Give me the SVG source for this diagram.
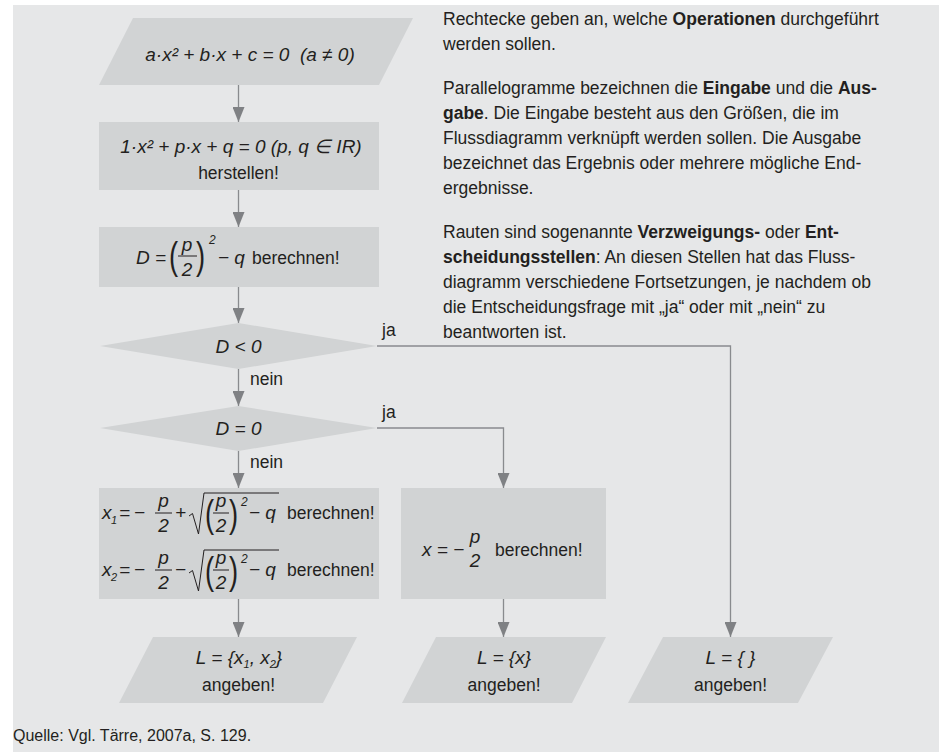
<svg xmlns="http://www.w3.org/2000/svg" width="939" height="753" viewBox="0 0 939 753">
<defs>
<style>
.bg{fill:#e6e7e8}
.n{fill:#d1d3d4}
.t{font-family:"Liberation Sans",Arial,sans-serif;font-size:17.5px;fill:#231f20}
.q{font-family:"Liberation Sans",Arial,sans-serif;font-size:16px;fill:#231f20}
.m{font-family:"Liberation Sans",Arial,sans-serif;font-size:19px;font-style:italic;fill:#231f20}
.b{font-weight:bold}
.mid{text-anchor:middle}
.c{fill:none;stroke:#898b8e;stroke-width:1.3}
.rule{stroke:#231f20;stroke-width:1;fill:none}
.sub{font-size:11px}
.sup{font-size:12px}
.par{font-family:"Liberation Sans",Arial,sans-serif;font-size:38px;fill:#231f20}
</style>
<marker id="ah" viewBox="0 0 15 12" refX="15" refY="6" markerWidth="15" markerHeight="12" markerUnits="userSpaceOnUse" orient="auto"><path d="M0,0 L15,6 L0,12 z" fill="#7f8184"/></marker>
</defs>
<rect class="bg" x="13" y="5" width="926" height="747"/>

<g id="connectors">
<path class="c" d="M238.5,85 V122" marker-end="url(#ah)"/>
<path class="c" d="M238.5,190 V227" marker-end="url(#ah)"/>
<path class="c" d="M238.5,287 V323" marker-end="url(#ah)"/>
<path class="c" d="M238.5,369 V406" marker-end="url(#ah)"/>
<path class="c" d="M238.5,451 V488" marker-end="url(#ah)"/>
<path class="c" d="M238.5,599 V637" marker-end="url(#ah)"/>
<path class="c" d="M377,346 H730.5 V637" marker-end="url(#ah)"/>
<path class="c" d="M377,428 H503.5 V488" marker-end="url(#ah)"/>
<path class="c" d="M503.5,599 V637" marker-end="url(#ah)"/>
<text class="t" x="382" y="336">ja</text>
<text class="t" x="382" y="418">ja</text>
<text class="t" x="250" y="385">nein</text>
<text class="t" x="250" y="468">nein</text>
</g>

<g id="input">
<polygon class="n" points="133,18 413,18 379,85 99,85"/>
<text class="m mid" x="250" y="61">a·x² + b·x + c = 0 &#160;(a ≠ 0)</text>
</g>

<g id="normalize">
<rect class="n" x="99" y="122" width="280" height="68"/>
<text class="m mid" x="241" y="153">1·x² + p·x + q = 0 (p, q ∈ IR)</text>
<text class="t mid" x="238.5" y="179">herstellen!</text>
</g>

<g id="discriminant">
<rect class="n" x="99" y="227" width="280" height="60"/>
<text class="m" x="136" y="264">D =</text>
<text class="par" transform="translate(169,269) scale(0.72,1)">(</text>
<text class="m mid" x="187" y="251">p</text>
<line class="rule" x1="178" y1="256" x2="197" y2="256"/>
<text class="m mid" x="187" y="276">2</text>
<text class="par" transform="translate(196,269) scale(0.72,1)">)</text>
<text class="m sup" x="209" y="244">2</text>
<text class="m" x="218" y="264">− q</text>
<text class="t" x="252" y="264">berechnen!</text>
</g>

<g id="decision-neg">
<polygon class="n" points="238.5,323 377,346 238.5,369 100,346"/>
<text class="m mid" x="238.5" y="353">D &lt; 0</text>
</g>

<g id="decision-zero">
<polygon class="n" points="238.5,406 377,428 238.5,451 100,428"/>
<text class="m mid" x="238.5" y="435">D = 0</text>
</g>

<g id="two-solutions">
<rect class="n" x="99" y="488" width="280" height="111"/>
<g id="line-x1">
<text class="m" x="102" y="519">x</text>
<text class="m sub" x="111" y="524">1</text>
<text class="m" x="119" y="519">=</text>
<text class="m" x="134" y="519">−</text>
<text class="m mid" x="163.5" y="507">p</text>
<line class="rule" x1="155" y1="513" x2="172" y2="513"/>
<text class="m mid" x="163.5" y="532">2</text>
<text class="m" x="175" y="519">+</text>
<polyline class="rule" points="189,516 192.5,513.5 198.5,534 204,493 279,493"/>
<text class="par" transform="translate(205,527) scale(0.72,1)">(</text>
<text class="m mid" x="221" y="507">p</text>
<line class="rule" x1="213" y1="513" x2="229" y2="513"/>
<text class="m mid" x="221" y="532">2</text>
<text class="par" transform="translate(229,527) scale(0.72,1)">)</text>
<text class="m sup" x="241" y="506">2</text>
<text class="m" x="249" y="519">− q</text>
<text class="t" x="287" y="519">berechnen!</text>
</g>
<g id="line-x2" transform="translate(0,57)">
<text class="m" x="102" y="519">x</text>
<text class="m sub" x="111" y="524">2</text>
<text class="m" x="119" y="519">=</text>
<text class="m" x="134" y="519">−</text>
<text class="m mid" x="163.5" y="507">p</text>
<line class="rule" x1="155" y1="513" x2="172" y2="513"/>
<text class="m mid" x="163.5" y="532">2</text>
<text class="m" x="175" y="519">−</text>
<polyline class="rule" points="189,516 192.5,513.5 198.5,534 204,493 279,493"/>
<text class="par" transform="translate(205,527) scale(0.72,1)">(</text>
<text class="m mid" x="221" y="507">p</text>
<line class="rule" x1="213" y1="513" x2="229" y2="513"/>
<text class="m mid" x="221" y="532">2</text>
<text class="par" transform="translate(229,527) scale(0.72,1)">)</text>
<text class="m sup" x="241" y="506">2</text>
<text class="m" x="249" y="519">− q</text>
<text class="t" x="287" y="519">berechnen!</text>
</g>
</g>

<g id="one-solution">
<rect class="n" x="401" y="488" width="205" height="111"/>
<text class="m" x="422" y="556">x = −</text>
<text class="m mid" x="475" y="543">p</text>
<text class="m mid" x="475" y="567">2</text>
<text class="t" x="495" y="556">berechnen!</text>
</g>

<g id="output-two">
<polygon class="n" points="153,637 357,637 323,703 119,703"/>
<text class="m mid" x="239" y="664">L = {x<tspan class="sub" dy="4">1</tspan><tspan dy="-4">, x</tspan><tspan class="sub" dy="4">2</tspan><tspan dy="-4">}</tspan></text>
<text class="t mid" x="238.5" y="691">angeben!</text>
</g>

<g id="output-one">
<polygon class="n" points="436,637 606,637 572,703 402,703"/>
<text class="m mid" x="504" y="664">L = {x}</text>
<text class="t mid" x="504" y="691">angeben!</text>
</g>

<g id="output-none">
<polygon class="n" points="663,637 833,637 798,703 628,703"/>
<text class="m mid" x="730.5" y="664">L = { }</text>
<text class="t mid" x="730.5" y="691">angeben!</text>
</g>

<g id="legend">
<text class="t" x="443" y="25">Rechtecke geben an, welche <tspan class="b">Operationen</tspan> durchgeführt</text>
<text class="t" x="443" y="50">werden sollen.</text>
<text class="t" x="443" y="94">Parallelogramme bezeichnen die <tspan class="b">Eingabe</tspan> und die <tspan class="b">Aus-</tspan></text>
<text class="t" x="443" y="119"><tspan class="b">gabe</tspan>. Die Eingabe besteht aus den Größen, die im</text>
<text class="t" x="443" y="144">Flussdiagramm verknüpft werden sollen. Die Ausgabe</text>
<text class="t" x="443" y="169">bezeichnet das Ergebnis oder mehrere mögliche End-</text>
<text class="t" x="443" y="194">ergebnisse.</text>
<text class="t" x="443" y="238">Rauten sind sogenannte <tspan class="b">Verzweigungs-</tspan> oder <tspan class="b">Ent-</tspan></text>
<text class="t" x="443" y="263"><tspan class="b">scheidungsstellen</tspan>: An diesen Stellen hat das Fluss-</text>
<text class="t" x="443" y="288">diagramm verschiedene Fortsetzungen, je nachdem ob</text>
<text class="t" x="443" y="313">die Entscheidungsfrage mit „ja“ oder mit „nein“ zu</text>
<text class="t" x="443" y="338">beantworten ist.</text>
</g>

<text class="q" x="13" y="741">Quelle: Vgl. Tärre, 2007a, S. 129.</text>
</svg>
